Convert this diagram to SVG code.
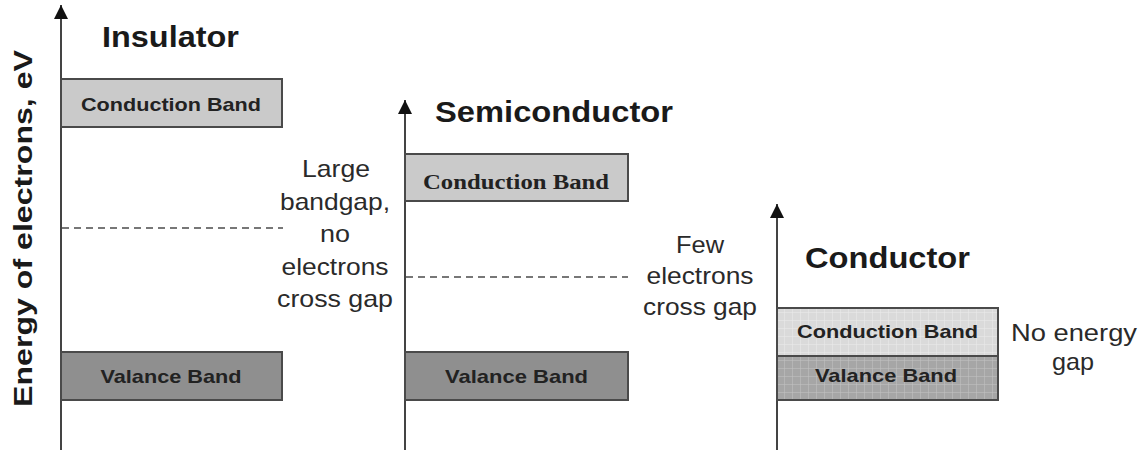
<svg xmlns="http://www.w3.org/2000/svg" width="1141" height="452" viewBox="0 0 1141 452">
<defs>
<style>
.title{font-family:"Liberation Sans",Arial,sans-serif;font-weight:bold;font-size:30px;fill:#1a1a1a}
.band{font-family:"Liberation Sans",Arial,sans-serif;font-weight:bold;font-size:19px;fill:#222;text-anchor:middle}
.bandser{font-family:"Liberation Serif","Times New Roman",serif;font-weight:bold;font-size:22px;fill:#222;text-anchor:middle}
.note{font-family:"Liberation Sans",Arial,sans-serif;font-size:24px;fill:#2a2a2a;text-anchor:middle}
.axis{stroke:#444;stroke-width:2;fill:none}
.dash{stroke:#777;stroke-width:2;stroke-dasharray:7 5;fill:none}
.box{stroke:#4a4a4a;stroke-width:2}
.cb{fill:#cacaca}
.vb{fill:#8f8f8f}
</style>
<marker id="arrow" viewBox="0 0 14 14" refX="14" refY="7" markerWidth="14" markerHeight="14" markerUnits="userSpaceOnUse" orient="auto">
<path d="M0,0 L14,7 L0,14 Z" fill="#111"/>
</marker>
<pattern id="gridLight" width="8" height="8" patternUnits="userSpaceOnUse">
<rect width="8" height="8" fill="#dadada"/>
<path d="M0,0 V8 M0,0 H8" stroke="#ececec" stroke-width="1"/>
</pattern>
<pattern id="gridDark" width="8" height="8" patternUnits="userSpaceOnUse">
<rect width="8" height="8" fill="#a6a6a6"/>
<path d="M0,0 V8 M0,0 H8" stroke="#c4c4c4" stroke-width="1"/>
</pattern>
</defs>
<rect width="1141" height="452" fill="#ffffff"/>

<g id="ylabel">
<text transform="translate(32,228.5) rotate(-90)" font-family="Liberation Sans, Arial, sans-serif" font-weight="bold" font-size="26" fill="#1a1a1a" text-anchor="middle" textLength="357" lengthAdjust="spacingAndGlyphs">Energy of electrons, eV</text>
</g>

<g id="connectors">
<line class="axis" x1="61" y1="450" x2="61" y2="5" marker-end="url(#arrow)"/>
<line class="axis" x1="405" y1="450" x2="405" y2="100" marker-end="url(#arrow)"/>
<line class="axis" x1="777" y1="450" x2="777" y2="204" marker-end="url(#arrow)"/>
<line class="dash" x1="62" y1="228" x2="283" y2="228"/>
<line class="dash" x1="406" y1="277" x2="628" y2="277"/>
</g>

<g id="insulator">
<text class="title" x="102" y="47" textLength="137" lengthAdjust="spacingAndGlyphs">Insulator</text>
</g>
<g id="ins-conduction">
<rect class="box cb" x="61" y="79" width="221" height="48"/>
<text class="band" x="171" y="111" textLength="180" lengthAdjust="spacingAndGlyphs">Conduction Band</text>
</g>
<g id="ins-valance">
<rect class="box vb" x="61" y="352" width="221" height="48"/>
<text class="band" x="171" y="383" textLength="141" lengthAdjust="spacingAndGlyphs">Valance Band</text>
</g>
<g id="ins-note">
<text class="note" x="336" y="177" textLength="68" lengthAdjust="spacingAndGlyphs">Large</text>
<text class="note" x="335" y="209.5" textLength="110" lengthAdjust="spacingAndGlyphs">bandgap,</text>
<text class="note" x="335" y="242" textLength="30" lengthAdjust="spacingAndGlyphs">no</text>
<text class="note" x="335" y="274.5" textLength="107" lengthAdjust="spacingAndGlyphs">electrons</text>
<text class="note" x="335" y="307" textLength="116" lengthAdjust="spacingAndGlyphs">cross gap</text>
</g>

<g id="semiconductor">
<text class="title" x="435" y="122" textLength="238" lengthAdjust="spacingAndGlyphs">Semiconductor</text>
</g>
<g id="semi-conduction">
<rect class="box cb" x="405" y="154" width="223" height="47"/>
<text class="bandser" x="516" y="189" textLength="186" lengthAdjust="spacingAndGlyphs">Conduction Band</text>
</g>
<g id="semi-valance">
<rect class="box vb" x="405" y="352" width="223" height="48"/>
<text class="band" x="516.5" y="383" textLength="143" lengthAdjust="spacingAndGlyphs">Valance Band</text>
</g>
<g id="semi-note">
<text class="note" x="700" y="253" textLength="48" lengthAdjust="spacingAndGlyphs">Few</text>
<text class="note" x="700" y="284" textLength="107" lengthAdjust="spacingAndGlyphs">electrons</text>
<text class="note" x="700" y="315" textLength="114" lengthAdjust="spacingAndGlyphs">cross gap</text>
</g>

<g id="conductor">
<text class="title" x="805" y="268" textLength="165" lengthAdjust="spacingAndGlyphs">Conductor</text>
</g>
<g id="cond-conduction">
<rect class="box" x="777" y="308" width="221" height="48" fill="url(#gridLight)"/>
<text class="band" x="887.5" y="338" textLength="181" lengthAdjust="spacingAndGlyphs">Conduction Band</text>
</g>
<g id="cond-valance">
<rect class="box" x="777" y="356" width="221" height="44" fill="url(#gridDark)"/>
<text class="band" x="886" y="382" textLength="142" lengthAdjust="spacingAndGlyphs">Valance Band</text>
</g>
<g id="cond-note">
<text class="note" x="1074" y="341" textLength="126" lengthAdjust="spacingAndGlyphs">No energy</text>
<text class="note" x="1073" y="370" textLength="42" lengthAdjust="spacingAndGlyphs">gap</text>
</g>
</svg>
